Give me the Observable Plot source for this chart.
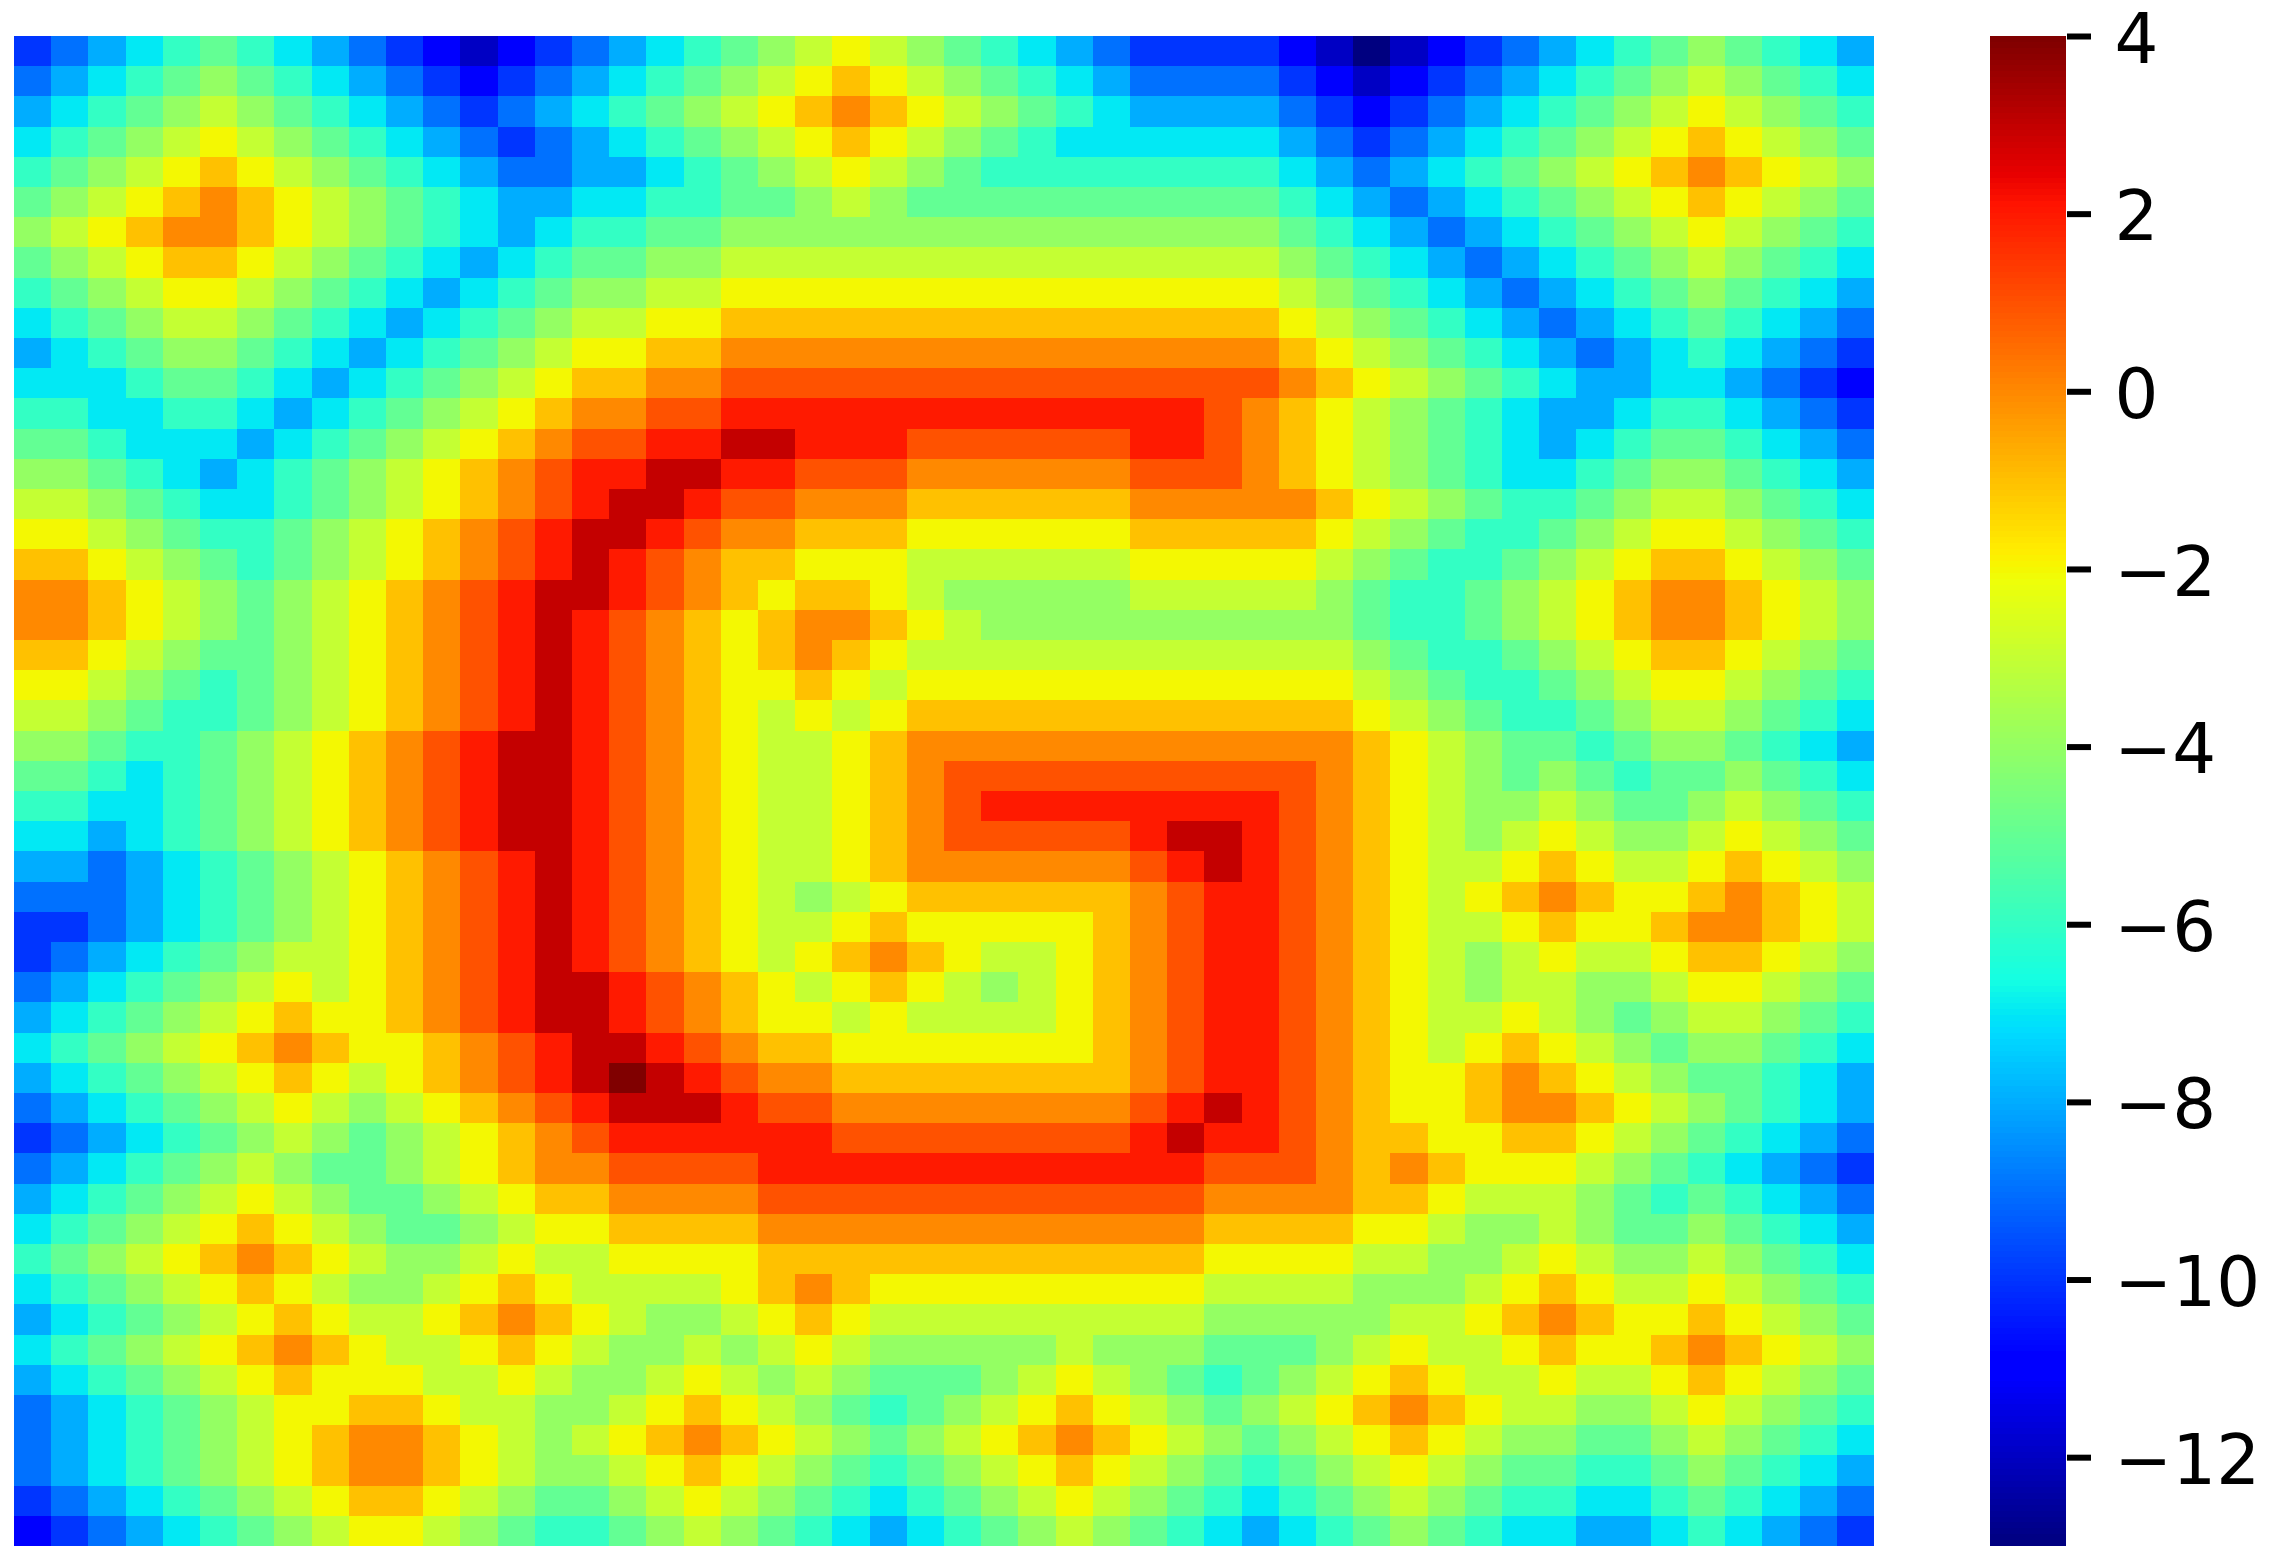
<!DOCTYPE html>
<html>
<head>
<meta charset="utf-8">
<script src="https://cdn.jsdelivr.net/npm/d3@7"></script>
<script src="https://cdn.jsdelivr.net/npm/@observablehq/plot@0.6"></script>
<style>
html,body{margin:0;padding:0;background:#fff;color:#000;width:2275px;height:1565px;overflow:hidden}
#heat,#bar{position:absolute;top:0}
#heat{left:0}
#bar{left:1990px}
</style>
</head>
<body>
<div id="heat"></div>
<div id="bar"></div>
<script>
const row00=[-10,-9,-8,-7,-6,-5,-6,-7,-8,-9,-10,-11,-12,-11,-10,-9,-8,-7,-6,-5,-4,-3,-2,-3,-4,-5,-6,-7,-8,-9,-10,-10,-10,-10,-11,-12,-13,-12,-11,-10,-9,-8,-7,-6,-5,-4,-5,-6,-7,-8];
const row01=[-9,-8,-7,-6,-5,-4,-5,-6,-7,-8,-9,-10,-11,-10,-9,-8,-7,-6,-5,-4,-3,-2,-1,-2,-3,-4,-5,-6,-7,-8,-9,-9,-9,-9,-10,-11,-12,-11,-10,-9,-8,-7,-6,-5,-4,-3,-4,-5,-6,-7];
const row02=[-8,-7,-6,-5,-4,-3,-4,-5,-6,-7,-8,-9,-10,-9,-8,-7,-6,-5,-4,-3,-2,-1,0,-1,-2,-3,-4,-5,-6,-7,-8,-8,-8,-8,-9,-10,-11,-10,-9,-8,-7,-6,-5,-4,-3,-2,-3,-4,-5,-6];
const row03=[-7,-6,-5,-4,-3,-2,-3,-4,-5,-6,-7,-8,-9,-10,-9,-8,-7,-6,-5,-4,-3,-2,-1,-2,-3,-4,-5,-6,-7,-7,-7,-7,-7,-7,-8,-9,-10,-9,-8,-7,-6,-5,-4,-3,-2,-1,-2,-3,-4,-5];
const row04=[-6,-5,-4,-3,-2,-1,-2,-3,-4,-5,-6,-7,-8,-9,-9,-8,-8,-7,-6,-5,-4,-3,-2,-3,-4,-5,-6,-6,-6,-6,-6,-6,-6,-6,-7,-8,-9,-8,-7,-6,-5,-4,-3,-2,-1,0,-1,-2,-3,-4];
const row05=[-5,-4,-3,-2,-1,0,-1,-2,-3,-4,-5,-6,-7,-8,-8,-7,-7,-6,-6,-5,-5,-4,-3,-4,-5,-5,-5,-5,-5,-5,-5,-5,-5,-5,-6,-7,-8,-9,-8,-7,-6,-5,-4,-3,-2,-1,-2,-3,-4,-5];
const row06=[-4,-3,-2,-1,0,0,-1,-2,-3,-4,-5,-6,-7,-8,-7,-6,-6,-5,-5,-4,-4,-4,-4,-4,-4,-4,-4,-4,-4,-4,-4,-4,-4,-4,-5,-6,-7,-8,-9,-8,-7,-6,-5,-4,-3,-2,-3,-4,-5,-6];
const row07=[-5,-4,-3,-2,-1,-1,-2,-3,-4,-5,-6,-7,-8,-7,-6,-5,-5,-4,-4,-3,-3,-3,-3,-3,-3,-3,-3,-3,-3,-3,-3,-3,-3,-3,-4,-5,-6,-7,-8,-9,-8,-7,-6,-5,-4,-3,-4,-5,-6,-7];
const row08=[-6,-5,-4,-3,-2,-2,-3,-4,-5,-6,-7,-8,-7,-6,-5,-4,-4,-3,-3,-2,-2,-2,-2,-2,-2,-2,-2,-2,-2,-2,-2,-2,-2,-2,-3,-4,-5,-6,-7,-8,-9,-8,-7,-6,-5,-4,-5,-6,-7,-8];
const row09=[-7,-6,-5,-4,-3,-3,-4,-5,-6,-7,-8,-7,-6,-5,-4,-3,-3,-2,-2,-1,-1,-1,-1,-1,-1,-1,-1,-1,-1,-1,-1,-1,-1,-1,-2,-3,-4,-5,-6,-7,-8,-9,-8,-7,-6,-5,-6,-7,-8,-9];
const row10=[-8,-7,-6,-5,-4,-4,-5,-6,-7,-8,-7,-6,-5,-4,-3,-2,-2,-1,-1,0,0,0,0,0,0,0,0,0,0,0,0,0,0,0,-1,-2,-3,-4,-5,-6,-7,-8,-9,-8,-7,-6,-7,-8,-9,-10];
const row11=[-7,-7,-7,-6,-5,-5,-6,-7,-8,-7,-6,-5,-4,-3,-2,-1,-1,0,0,1,1,1,1,1,1,1,1,1,1,1,1,1,1,1,0,-1,-2,-3,-4,-5,-6,-7,-8,-8,-7,-7,-8,-9,-10,-11];
const row12=[-6,-6,-7,-7,-6,-6,-7,-8,-7,-6,-5,-4,-3,-2,-1,0,0,1,1,2,2,2,2,2,2,2,2,2,2,2,2,2,1,0,-1,-2,-3,-4,-5,-6,-7,-8,-8,-7,-6,-6,-7,-8,-9,-10];
const row13=[-5,-5,-6,-7,-7,-7,-8,-7,-6,-5,-4,-3,-2,-1,0,1,1,2,2,3,3,2,2,2,1,1,1,1,1,1,2,2,1,0,-1,-2,-3,-4,-5,-6,-7,-8,-7,-6,-5,-5,-6,-7,-8,-9];
const row14=[-4,-4,-5,-6,-7,-8,-7,-6,-5,-4,-3,-2,-1,0,1,2,2,3,3,2,2,1,1,1,0,0,0,0,0,0,1,1,1,0,-1,-2,-3,-4,-5,-6,-7,-7,-6,-5,-4,-4,-5,-6,-7,-8];
const row15=[-3,-3,-4,-5,-6,-7,-7,-6,-5,-4,-3,-2,-1,0,1,2,3,3,2,1,1,0,0,0,-1,-1,-1,-1,-1,-1,0,0,0,0,0,-1,-2,-3,-4,-5,-6,-6,-5,-4,-3,-3,-4,-5,-6,-7];
const row16=[-2,-2,-3,-4,-5,-6,-6,-5,-4,-3,-2,-1,0,1,2,3,3,2,1,0,0,-1,-1,-1,-2,-2,-2,-2,-2,-2,-1,-1,-1,-1,-1,-2,-3,-4,-5,-6,-6,-5,-4,-3,-2,-2,-3,-4,-5,-6];
const row17=[-1,-1,-2,-3,-4,-5,-6,-5,-4,-3,-2,-1,0,1,2,3,2,1,0,-1,-1,-2,-2,-2,-3,-3,-3,-3,-3,-3,-2,-2,-2,-2,-2,-3,-4,-5,-6,-6,-5,-4,-3,-2,-1,-1,-2,-3,-4,-5];
const row18=[0,0,-1,-2,-3,-4,-5,-4,-3,-2,-1,0,1,2,3,3,2,1,0,-1,-2,-1,-1,-2,-3,-4,-4,-4,-4,-4,-3,-3,-3,-3,-3,-4,-5,-6,-6,-5,-4,-3,-2,-1,0,0,-1,-2,-3,-4];
const row19=[0,0,-1,-2,-3,-4,-5,-4,-3,-2,-1,0,1,2,3,2,1,0,-1,-2,-1,0,0,-1,-2,-3,-4,-4,-4,-4,-4,-4,-4,-4,-4,-4,-5,-6,-6,-5,-4,-3,-2,-1,0,0,-1,-2,-3,-4];
const row20=[-1,-1,-2,-3,-4,-5,-5,-4,-3,-2,-1,0,1,2,3,2,1,0,-1,-2,-1,0,-1,-2,-3,-3,-3,-3,-3,-3,-3,-3,-3,-3,-3,-3,-4,-5,-6,-6,-5,-4,-3,-2,-1,-1,-2,-3,-4,-5];
const row21=[-2,-2,-3,-4,-5,-6,-5,-4,-3,-2,-1,0,1,2,3,2,1,0,-1,-2,-2,-1,-2,-3,-2,-2,-2,-2,-2,-2,-2,-2,-2,-2,-2,-2,-3,-4,-5,-6,-6,-5,-4,-3,-2,-2,-3,-4,-5,-6];
const row22=[-3,-3,-4,-5,-6,-6,-5,-4,-3,-2,-1,0,1,2,3,2,1,0,-1,-2,-3,-2,-3,-2,-1,-1,-1,-1,-1,-1,-1,-1,-1,-1,-1,-1,-2,-3,-4,-5,-6,-6,-5,-4,-3,-3,-4,-5,-6,-7];
const row23=[-4,-4,-5,-6,-6,-5,-4,-3,-2,-1,0,1,2,3,3,2,1,0,-1,-2,-3,-3,-2,-1,0,0,0,0,0,0,0,0,0,0,0,0,-1,-2,-3,-4,-5,-5,-6,-5,-4,-4,-5,-6,-7,-8];
const row24=[-5,-5,-6,-7,-6,-5,-4,-3,-2,-1,0,1,2,3,3,2,1,0,-1,-2,-3,-3,-2,-1,0,1,1,1,1,1,1,1,1,1,1,0,-1,-2,-3,-4,-5,-4,-5,-6,-5,-5,-4,-5,-6,-7];
const row25=[-6,-6,-7,-7,-6,-5,-4,-3,-2,-1,0,1,2,3,3,2,1,0,-1,-2,-3,-3,-2,-1,0,1,2,2,2,2,2,2,2,2,1,0,-1,-2,-3,-4,-4,-3,-4,-5,-5,-4,-3,-4,-5,-6];
const row26=[-7,-7,-8,-7,-6,-5,-4,-3,-2,-1,0,1,2,3,3,2,1,0,-1,-2,-3,-3,-2,-1,0,1,1,1,1,1,2,3,3,2,1,0,-1,-2,-3,-4,-3,-2,-3,-4,-4,-3,-2,-3,-4,-5];
const row27=[-8,-8,-9,-8,-7,-6,-5,-4,-3,-2,-1,0,1,2,3,2,1,0,-1,-2,-3,-3,-2,-1,0,0,0,0,0,0,1,2,3,2,1,0,-1,-2,-3,-3,-2,-1,-2,-3,-3,-2,-1,-2,-3,-4];
const row28=[-9,-9,-9,-8,-7,-6,-5,-4,-3,-2,-1,0,1,2,3,2,1,0,-1,-2,-3,-4,-3,-2,-1,-1,-1,-1,-1,-1,0,1,2,2,1,0,-1,-2,-3,-2,-1,0,-1,-2,-2,-1,0,-1,-2,-3];
const row29=[-10,-10,-9,-8,-7,-6,-5,-4,-3,-2,-1,0,1,2,3,2,1,0,-1,-2,-3,-3,-2,-1,-2,-2,-2,-2,-2,-1,0,1,2,2,1,0,-1,-2,-3,-3,-2,-1,-2,-2,-1,0,0,-1,-2,-3];
const row30=[-10,-9,-8,-7,-6,-5,-4,-3,-3,-2,-1,0,1,2,3,2,1,0,-1,-2,-3,-2,-1,0,-1,-2,-3,-3,-2,-1,0,1,2,2,1,0,-1,-2,-3,-4,-3,-2,-3,-3,-2,-1,-1,-2,-3,-4];
const row31=[-9,-8,-7,-6,-5,-4,-3,-2,-3,-2,-1,0,1,2,3,3,2,1,0,-1,-2,-3,-2,-1,-2,-3,-4,-3,-2,-1,0,1,2,2,1,0,-1,-2,-3,-4,-3,-3,-4,-4,-3,-2,-2,-3,-4,-5];
const row32=[-8,-7,-6,-5,-4,-3,-2,-1,-2,-2,-1,0,1,2,3,3,2,1,0,-1,-2,-2,-3,-2,-3,-3,-3,-3,-2,-1,0,1,2,2,1,0,-1,-2,-3,-3,-2,-3,-4,-5,-4,-3,-3,-4,-5,-6];
const row33=[-7,-6,-5,-4,-3,-2,-1,0,-1,-2,-2,-1,0,1,2,3,3,2,1,0,-1,-1,-2,-2,-2,-2,-2,-2,-2,-1,0,1,2,2,1,0,-1,-2,-3,-2,-1,-2,-3,-4,-5,-4,-4,-5,-6,-7];
const row34=[-8,-7,-6,-5,-4,-3,-2,-1,-2,-3,-2,-1,0,1,2,3,4,3,2,1,0,0,-1,-1,-1,-1,-1,-1,-1,-1,0,1,2,2,1,0,-1,-2,-2,-1,0,-1,-2,-3,-4,-5,-5,-6,-7,-8];
const row35=[-9,-8,-7,-6,-5,-4,-3,-2,-3,-4,-3,-2,-1,0,1,2,3,3,3,2,1,1,0,0,0,0,0,0,0,0,1,2,3,2,1,0,-1,-2,-2,-1,0,0,-1,-2,-3,-4,-5,-6,-7,-8];
const row36=[-10,-9,-8,-7,-6,-5,-4,-3,-4,-5,-4,-3,-2,-1,0,1,2,2,2,2,2,2,1,1,1,1,1,1,1,1,2,3,2,2,1,0,-1,-1,-2,-2,-1,-1,-2,-3,-4,-5,-6,-7,-8,-9];
const row37=[-9,-8,-7,-6,-5,-4,-3,-4,-5,-5,-4,-3,-2,-1,0,0,1,1,1,1,2,2,2,2,2,2,2,2,2,2,2,2,1,1,1,0,-1,0,-1,-2,-2,-2,-3,-4,-5,-6,-7,-8,-9,-10];
const row38=[-8,-7,-6,-5,-4,-3,-2,-3,-4,-5,-5,-4,-3,-2,-1,-1,0,0,0,0,1,1,1,1,1,1,1,1,1,1,1,1,0,0,0,0,-1,-1,-2,-3,-3,-3,-4,-5,-6,-5,-6,-7,-8,-9];
const row39=[-7,-6,-5,-4,-3,-2,-1,-2,-3,-4,-5,-5,-4,-3,-2,-2,-1,-1,-1,-1,0,0,0,0,0,0,0,0,0,0,0,0,-1,-1,-1,-1,-2,-2,-3,-4,-4,-3,-4,-5,-5,-4,-5,-6,-7,-8];
const row40=[-6,-5,-4,-3,-2,-1,0,-1,-2,-3,-4,-4,-3,-2,-3,-3,-2,-2,-2,-2,-1,-1,-1,-1,-1,-1,-1,-1,-1,-1,-1,-1,-2,-2,-2,-2,-3,-3,-4,-4,-3,-2,-3,-4,-4,-3,-4,-5,-6,-7];
const row41=[-7,-6,-5,-4,-3,-2,-1,-2,-3,-4,-4,-3,-2,-1,-2,-3,-3,-3,-3,-2,-1,0,-1,-2,-2,-2,-2,-2,-2,-2,-2,-2,-3,-3,-3,-3,-4,-4,-4,-3,-2,-1,-2,-3,-3,-2,-3,-4,-5,-6];
const row42=[-8,-7,-6,-5,-4,-3,-2,-1,-2,-3,-3,-2,-1,0,-1,-2,-3,-4,-4,-3,-2,-1,-2,-3,-3,-3,-3,-3,-3,-3,-3,-3,-4,-4,-4,-4,-4,-3,-3,-2,-1,0,-1,-2,-2,-1,-2,-3,-4,-5];
const row43=[-7,-6,-5,-4,-3,-2,-1,0,-1,-2,-3,-3,-2,-1,-2,-3,-4,-4,-3,-4,-3,-2,-3,-4,-4,-4,-4,-4,-3,-4,-4,-4,-5,-5,-5,-4,-3,-2,-3,-3,-2,-1,-2,-2,-1,0,-1,-2,-3,-4];
const row44=[-8,-7,-6,-5,-4,-3,-2,-1,-2,-2,-2,-3,-3,-2,-3,-4,-4,-3,-2,-3,-4,-3,-4,-5,-5,-5,-4,-3,-2,-3,-4,-5,-6,-5,-4,-3,-2,-1,-2,-3,-3,-2,-3,-3,-2,-1,-2,-3,-4,-5];
const row45=[-9,-8,-7,-6,-5,-4,-3,-2,-2,-1,-1,-2,-3,-3,-4,-4,-3,-2,-1,-2,-3,-4,-5,-6,-5,-4,-3,-2,-1,-2,-3,-4,-5,-4,-3,-2,-1,0,-1,-2,-3,-3,-4,-4,-3,-2,-3,-4,-5,-6];
const row46=[-9,-8,-7,-6,-5,-4,-3,-2,-1,0,0,-1,-2,-3,-4,-3,-2,-1,0,-1,-2,-3,-4,-5,-4,-3,-2,-1,0,-1,-2,-3,-4,-5,-4,-3,-2,-1,-2,-3,-4,-4,-5,-5,-4,-3,-4,-5,-6,-7];
const row47=[-9,-8,-7,-6,-5,-4,-3,-2,-1,0,0,-1,-2,-3,-4,-4,-3,-2,-1,-2,-3,-4,-5,-6,-5,-4,-3,-2,-1,-2,-3,-4,-5,-6,-5,-4,-3,-2,-3,-4,-5,-5,-6,-6,-5,-4,-5,-6,-7,-8];
const row48=[-10,-9,-8,-7,-6,-5,-4,-3,-2,-1,-1,-2,-3,-4,-5,-5,-4,-3,-2,-3,-4,-5,-6,-7,-6,-5,-4,-3,-2,-3,-4,-5,-6,-7,-6,-5,-4,-3,-4,-5,-6,-6,-7,-7,-6,-5,-6,-7,-8,-9];
const row49=[-11,-10,-9,-8,-7,-6,-5,-4,-3,-2,-2,-3,-4,-5,-6,-6,-5,-4,-3,-4,-5,-6,-7,-8,-7,-6,-5,-4,-3,-4,-5,-6,-7,-8,-7,-6,-5,-4,-5,-6,-7,-7,-8,-8,-7,-6,-7,-8,-9,-10];
const rows=[row00,row01,row02,row03,row04,row05,row06,row07,row08,row09,row10,row11,row12,row13,row14,row15,row16,row17,row18,row19,row20,row21,row22,row23,row24,row25,row26,row27,row28,row29,row30,row31,row32,row33,row34,row35,row36,row37,row38,row39,row40,row41,row42,row43,row44,row45,row46,row47,row48,row49];
const colorDomain=[-13,4];
const barTicks=[-12,-10,-8,-6,-4,-2,0,2,4];

// matplotlib's "jet" colormap, as its 256 discrete entries
const seg=(t,pts)=>{for(let i=1;i<pts.length;i++){if(t<=pts[i][0]){const[a,u]=pts[i-1],[b,v]=pts[i];return u+(v-u)*(t-a)/(b-a);}}return pts[pts.length-1][1];};
const jet=t=>{
  const k=Math.max(0,Math.min(255,Math.floor(t*256)))/255;
  const r=seg(k,[[0,0],[.35,0],[.66,1],[.89,1],[1,.5]]);
  const g=seg(k,[[0,0],[.125,0],[.375,1],[.64,1],[.91,0],[1,0]]);
  const b=seg(k,[[0,.5],[.11,1],[.34,1],[.65,0],[1,0]]);
  return `rgb(${Math.round(r*255)},${Math.round(g*255)},${Math.round(b*255)})`;
};
const colorScale={type:"linear",domain:colorDomain,interpolate:jet};

const cells=rows.flatMap((r,y)=>r.map((v,x)=>({x,y,v})));
document.getElementById("heat").append(Plot.plot({
  width:1874,height:1565,marginLeft:14,marginRight:0,marginTop:36,marginBottom:19,
  x:{type:"band",domain:d3.range(50),padding:0,round:false,axis:null},
  y:{type:"band",domain:d3.range(50),padding:0,round:false,axis:null},
  color:colorScale,
  marks:[Plot.cell(cells,{x:"x",y:"y",fill:"v",shapeRendering:"crispEdges"})]
}));

const span=colorDomain[1]-colorDomain[0];
const steps=d3.range(256).map(i=>({lo:colorDomain[0]+span*i/256,hi:colorDomain[0]+span*(i+1)/256}));
document.getElementById("bar").append(Plot.plot({
  width:285,height:1565,marginLeft:0,marginRight:209,marginTop:36,marginBottom:19,
  style:{fontFamily:"DejaVu Sans",overflow:"visible",background:"transparent"},
  x:{domain:[0,1],axis:null},
  y:{domain:colorDomain},
  color:colorScale,
  marks:[
    Plot.rect(steps,{x1:0,x2:1,y1:"lo",y2:"hi",fill:d=>(d.lo+d.hi)/2,shapeRendering:"crispEdges"}),
    Plot.axisY({anchor:"right",ticks:barTicks,tickSize:24,fill:"none",strokeWidth:6,label:null}),
    Plot.axisY({anchor:"right",ticks:barTicks,tickSize:0,tickPadding:48,fontSize:69,dy:4,label:null,
      tickFormat:d=>String(d).replace("-","\u2212")})
  ]
}));
</script>
</body>
</html>
